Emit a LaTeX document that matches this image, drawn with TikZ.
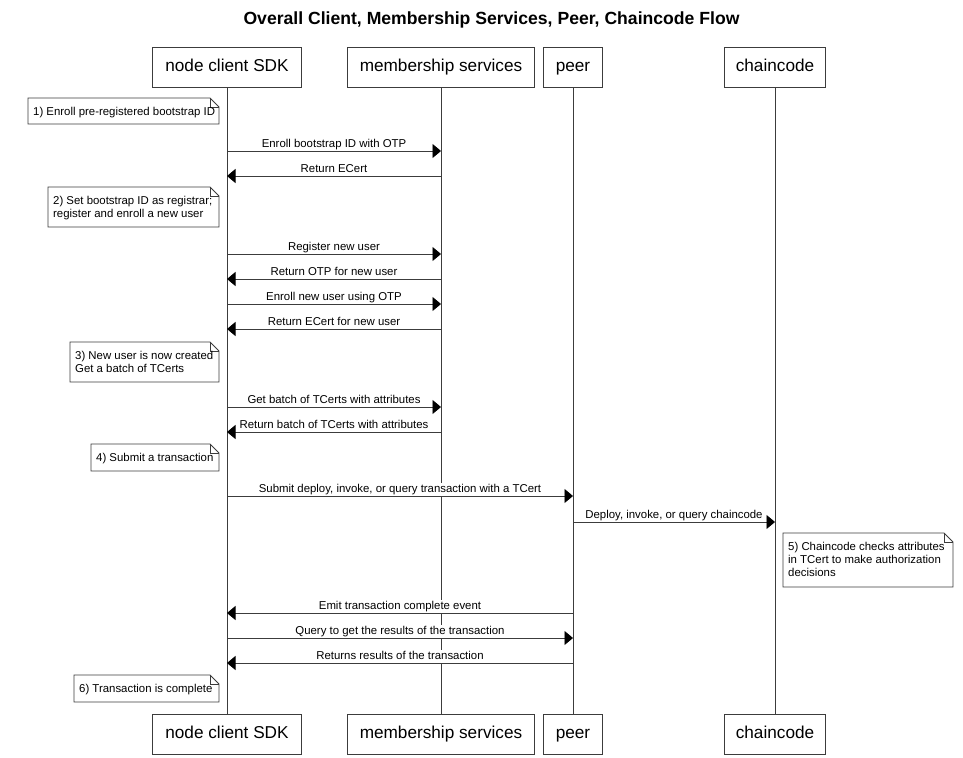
\documentclass[tikz,border=0pt]{standalone}
\usepackage{fontspec}
\setmainfont{Liberation Sans}
\usetikzlibrary{arrows.meta}
\definecolor{ln}{RGB}{60,60,60}
\newcommand{\msgfont}{\fontsize{11.4bp}{13bp}\selectfont}
\newcommand{\partfont}{\fontsize{17.2bp}{20bp}\selectfont}
\tikzset{
  part/.style={draw=ln, line width=0.9bp, fill=white, minimum height=40bp, inner sep=0, text height=12.5bp, text depth=3.5bp, font=\partfont},
  life/.style={draw=ln, line width=0.9bp},
  msgline/.style={draw=ln, line width=0.9bp, -{Triangle[length=8.5bp,width=14bp,fill=black,color=black]}},
  msglabel/.style={fill=white, inner sep=1bp, text height=8.5bp, text depth=2.5bp, font=\msgfont, midway, above},
  noteline/.style={draw=ln, line width=0.9bp, line join=miter},
  notetext/.style={inner sep=0, align=left, font=\msgfont, anchor=north west}
}
% y, from, to, label
\newcommand{\mymsg}[4]{%
  \draw[msgline] (#2.south |- 0,#1) -- node[msglabel]{#4} (#3.south |- 0,#1);}
% name, x1, y1, x2, y2, text
\newcommand{\mynote}[6]{%
  \draw[noteline] (#2,#3) -- (#4-9,#3) -- (#4,#3+9) -- (#4,#5) -- (#2,#5) -- cycle;
  \draw[noteline] (#4-9,#3) -- (#4-9,#3+9) -- (#4,#3+9);
  \node[notetext] (#1) at (#2+5,#3+8) {\rule{0pt}{9bp}#6};}
\begin{document}
\begin{tikzpicture}[x=1bp, y=-1bp]
\useasboundingbox (0,0) rectangle (963,758);
\node[font=\bfseries\fontsize{17.6bp}{20bp}\selectfont] (title) at (491.5,20) {Overall Client, Membership Services, Peer, Chaincode Flow};
% participants
\node[part, minimum width=149bp] (sdkT) at (227,67) {node client SDK};
\node[part, minimum width=187bp] (msT) at (441,67) {membership services};
\node[part, minimum width=59bp] (peerT) at (573,67) {peer};
\node[part, minimum width=101bp] (ccT) at (775,67) {chaincode};
\node[part, minimum width=149bp] (sdkB) at (227,734) {node client SDK};
\node[part, minimum width=187bp] (msB) at (441,734) {membership services};
\node[part, minimum width=59bp] (peerB) at (573,734) {peer};
\node[part, minimum width=101bp] (ccB) at (775,734) {chaincode};
% lifelines
\draw[life] (sdkT.south) -- (sdkB.north);
\draw[life] (msT.south) -- (msB.north);
\draw[life] (peerT.south) -- (peerB.north);
\draw[life] (ccT.south) -- (ccB.north);
% messages
\mymsg{151}{sdkT}{msT}{Enroll bootstrap ID with OTP}
\mymsg{176}{msT}{sdkT}{Return ECert}
\mymsg{254}{sdkT}{msT}{Register new user}
\mymsg{279}{msT}{sdkT}{Return OTP for new user}
\mymsg{304}{sdkT}{msT}{Enroll new user using OTP}
\mymsg{329}{msT}{sdkT}{Return ECert for new user}
\mymsg{407}{sdkT}{msT}{Get batch of TCerts with attributes}
\mymsg{432}{msT}{sdkT}{Return batch of TCerts with attributes}
\mymsg{496}{sdkT}{peerT}{Submit deploy, invoke, or query transaction with a TCert}
\mymsg{522}{peerT}{ccT}{Deploy, invoke, or query chaincode}
\mymsg{613}{peerT}{sdkT}{Emit transaction complete event}
\mymsg{638}{sdkT}{peerT}{Query to get the results of the transaction}
\mymsg{663}{peerT}{sdkT}{Returns results of the transaction}
% notes
\mynote{n1}{28}{98}{219}{124}{1) Enroll pre-registered bootstrap ID}
\mynote{n2}{48}{187}{219}{227}{2) Set bootstrap ID as registrar;\\register and enroll a new user}
\mynote{n3}{70}{342}{219}{382}{3) New user is now created\\Get a batch of TCerts}
\mynote{n4}{91}{444}{219}{471}{4) Submit a transaction}
\mynote{n5}{783}{533}{953}{587}{5) Chaincode checks attributes\\in TCert to make authorization\\decisions}
\mynote{n6}{74}{675}{219}{702}{6) Transaction is complete}
\end{tikzpicture}
\end{document}
